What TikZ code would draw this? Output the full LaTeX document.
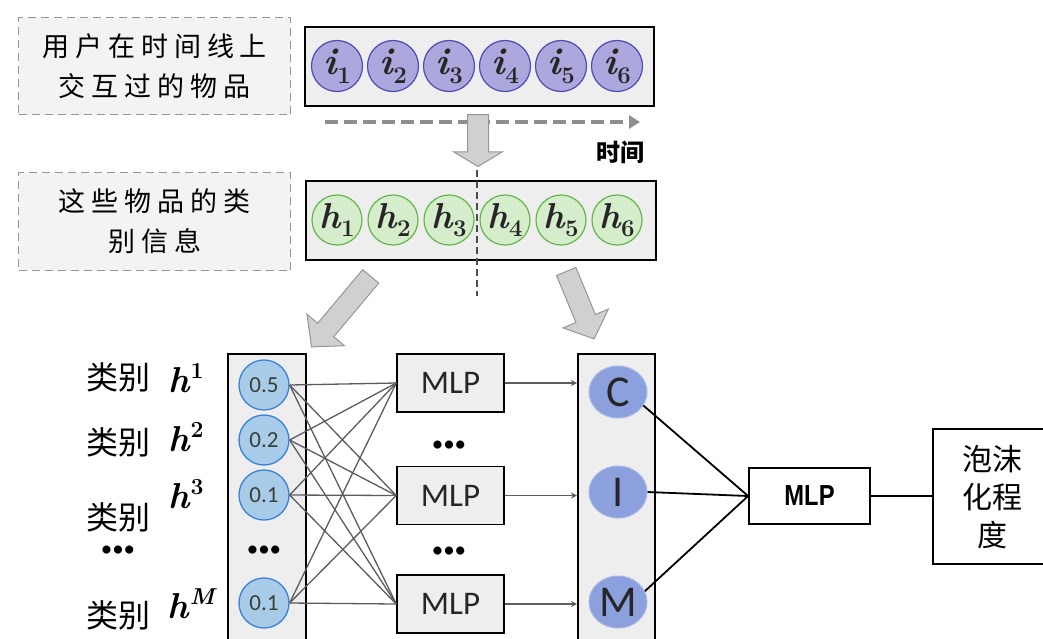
\documentclass[tikz,border=0pt]{standalone}
\usepackage{fontspec}
\newfontfamily\carlito{Carlito}
\newfontfamily\cjk{Noto Sans CJK SC}
\newfontfamily\cjksp[LetterSpace=22]{Noto Sans CJK SC}
\newfontfamily\narrowbold[FakeStretch=0.82]{Liberation Sans Bold}
\usetikzlibrary{shapes.arrows,shapes.geometric,arrows.meta,calc}
\newcommand\SubV[2]{{\bfseries\itshape #1}\kern0.5pt\raisebox{-0.24em}{\fontsize{24}{24}\selectfont\bfseries #2}}
\newcommand\SupV[2]{{\bfseries\itshape #1}\kern1pt\raisebox{0.40em}{\fontsize{23}{23}\selectfont\bfseries #2}}
\definecolor{ipurple}{RGB}{172,168,222}
\definecolor{ipurpleD}{RGB}{78,74,182}
\definecolor{hgreen}{RGB}{214,237,204}
\definecolor{hgreenD}{RGB}{98,182,74}
\definecolor{bblue}{RGB}{168,204,232}
\definecolor{bblueD}{RGB}{58,128,215}
\definecolor{cim}{RGB}{140,160,221}
\definecolor{cimD}{RGB}{165,182,232}
\definecolor{panelgray}{RGB}{238,238,238}
\definecolor{boxgray}{RGB}{243,243,243}
\definecolor{arrgray}{RGB}{208,208,208}
\definecolor{arrgrayD}{RGB}{150,150,150}
\definecolor{linegray}{RGB}{92,92,92}
\definecolor{txtgray}{RGB}{60,60,60}
\begin{document}
\begin{tikzpicture}[x=1pt,y=-1pt,
  dbox/.style={draw=arrgrayD, dash pattern=on 8pt off 5pt, line width=1.4pt, fill=boxgray, inner sep=0pt},
  panel/.style={draw=black, line width=1.5pt, fill=panelgray, inner sep=0pt},
  icirc/.style={circle, draw=ipurpleD, fill=ipurple, line width=1.2pt, minimum size=51pt, inner sep=0pt, text=black!85, font=\fontsize{38}{38}\selectfont},
  hcirc/.style={circle, draw=hgreenD, fill=hgreen, line width=1.2pt, minimum size=50pt, inner sep=0pt, text=black!85, font=\fontsize{36}{36}\selectfont},
  bcirc/.style={circle, draw=bblueD, fill=bblue, line width=1.3pt, minimum size=50pt, inner sep=0pt, text=txtgray, font=\carlito\fontsize{23}{23}\selectfont},
  ccirc/.style={ellipse, draw=cimD, fill=cim, line width=1pt, minimum width=58pt, minimum height=52pt, inner sep=0pt, text=black!85, font=\carlito\fontsize{44}{44}\selectfont},
  mlpbox/.style={rectangle, draw=black, line width=1.5pt, fill=panelgray, minimum width=107pt, minimum height=58pt, inner sep=0pt, text=black!85, font=\carlito\fontsize{33}{33}\selectfont},
  barrow/.style={single arrow, draw=arrgrayD, fill=arrgray, line width=1pt, inner xsep=0pt, inner ysep=10pt, single arrow head extend=14pt, anchor=tail},
  dotsnode/.style={font=\carlito\fontsize{23}{23}\selectfont, inner sep=0pt},
  cnlabel/.style={font=\cjk\fontsize{32}{32}\selectfont, inner sep=0pt},
  hlabel/.style={font=\fontsize{36}{36}\selectfont, inner sep=0pt},
  wire/.style={draw=linegray, line width=1.3pt},
  bwire/.style={draw=black, line width=1.8pt}
]
\useasboundingbox (0,0) rectangle (1043,638);
\clip (0,0) rectangle (1043,638);

% dashed label boxes
\node[dbox, anchor=north west, minimum width=272pt, minimum height=97pt] (lb1) at (18,17) {};
\node[align=center, font=\cjksp\fontsize{27}{40}\selectfont, inner sep=0pt] (lt1) at (lb1.center) {用户在时间线上\\交互过的物品};
\node[dbox, anchor=north west, minimum width=272pt, minimum height=98pt] (lb2) at (18,172) {};
\node[align=center, font=\cjksp\fontsize{27}{40}\selectfont, inner sep=0pt] (lt2) at (lb2.center) {这些物品的类\\别信息};

% item sequence box
\node[panel, anchor=north west, minimum width=349pt, minimum height=79pt] (seq) at (304,26) {};
\foreach \k/\x in {1/337,2/393,3/449,4/505,5/561,6/617}
  \node[icirc] (i\k) at (\x,66) {\SubV{i}{\k}};

% time arrow
\coordinate (t0) at (325,122);
\coordinate (t1) at (640,122);
\draw[draw=arrgrayD!95!black, line width=4.5pt, dash pattern=on 13pt off 6pt, -{Triangle[length=11pt,width=13pt]}] (t0) -- (t1);
\node[font=\cjk\bfseries\fontsize{24}{24}\selectfont, inner sep=0pt] (time) at (620,152) {时间};

% category sequence box
\node[panel, anchor=north west, minimum width=350pt, minimum height=79pt] (cat) at (305,180) {};
\foreach \k/\x in {1/337,2/393,3/449,4/505,5/561,6/617}
  \node[hcirc] (h\k) at (\x,220) {\SubV{h}{\k}};

% down block arrow
\coordinate (da) at (478,114);
\node[barrow, rotate=-90, minimum height=52pt, single arrow tip angle=118] (down) at (da) {};

% vertical dashed divider
\coordinate (v0) at (477,170);
\coordinate (v1) at (477,296);
\draw[draw=black!70, line width=1.6pt, dash pattern=on 7pt off 4pt] (v0) -- (v1);

% diagonal block arrows
\coordinate (la) at (371,276);
\node[barrow, rotate=-130, minimum height=92pt, single arrow tip angle=96] (larr) at (la) {};
\coordinate (ra) at (566,271);
\node[barrow, rotate=-67.5, minimum height=73pt, single arrow tip angle=96] (rarr) at (ra) {};

% left panel with category weights
\node[panel, anchor=north west, minimum width=78pt, minimum height=310pt] (lp) at (227,353) {};
\node[bcirc] (b1) at (264,385) {0.5};
\node[bcirc] (b2) at (264,440) {0.2};
\node[bcirc] (b3) at (264,495) {0.1};
\node[dotsnode] (bd) at (264,551) {\textbullet\textbullet\textbullet};
\node[bcirc] (b4) at (264,603) {0.1};

% category labels
\node[cnlabel] (c1) at (118,377) {类别};
\node[hlabel] (hl1) at (186,378) {\SupV{h}{1}};
\node[cnlabel] (c2) at (118,442) {类别};
\node[hlabel] (hl2) at (186,437) {\SupV{h}{2}};
\node[cnlabel] (c3) at (118,517) {类别};
\node[hlabel] (hl3) at (186,494) {\SupV{h}{3}};
\node[dotsnode] (cd) at (118,551) {\textbullet\textbullet\textbullet};
\node[cnlabel] (c4) at (118,615) {类别};
\node[hlabel] (hl4) at (191,604) {\SupV{h}{\itshape M}};

% middle MLPs
\node[mlpbox] (m1) at (450.5,383) {MLP};
\node[dotsnode] (md1) at (449,446) {\textbullet\textbullet\textbullet};
\node[mlpbox] (m2) at (450.5,495.5) {MLP};
\node[dotsnode] (md2) at (449,552) {\textbullet\textbullet\textbullet};
\node[mlpbox] (m3) at (450.5,604) {MLP};

% fully connected wires
\foreach \b in {b1,b2,b3,b4}
  \foreach \m in {m1,m2,m3}
    \draw[wire] (\b.east) -- (\m.west);

% right panel
\node[panel, anchor=north west, minimum width=77pt, minimum height=310pt] (rp) at (577,353) {};
\node[ccirc] (C) at (618,392) {C};
\node[ccirc] (I) at (618,492) {I};
\node[ccirc] (M) at (618,602) {M};

% MLP -> right panel
\foreach \m in {m1,m2,m3}
  \draw[wire, -{Stealth[length=6pt,width=6pt]}] (\m.east) -- (\m.east -| rp.west);

% final MLP and output
\node[rectangle, draw=black, line width=1.8pt, fill=white, minimum width=121pt, minimum height=56pt, inner sep=0pt, font=\narrowbold\fontsize{29}{29}\selectfont] (mf) at (809.5,496) {MLP};
\node[rectangle, draw=black, line width=1.8pt, fill=white, anchor=north west, minimum width=140pt, minimum height=135pt, inner sep=0pt] (out) at (932,428) {};
\node[align=center, font=\cjk\fontsize{30}{38}\selectfont, inner sep=0pt] (outt) at (992,497) {泡沫\\化程\\度};

\draw[bwire] (C.-28) -- (mf.west);
\draw[bwire] (I.east) -- (mf.west);
\draw[bwire] (M.22) -- (mf.west);
\draw[bwire] (mf.east) -- (mf.east -| out.west);
\end{tikzpicture}
\end{document}
